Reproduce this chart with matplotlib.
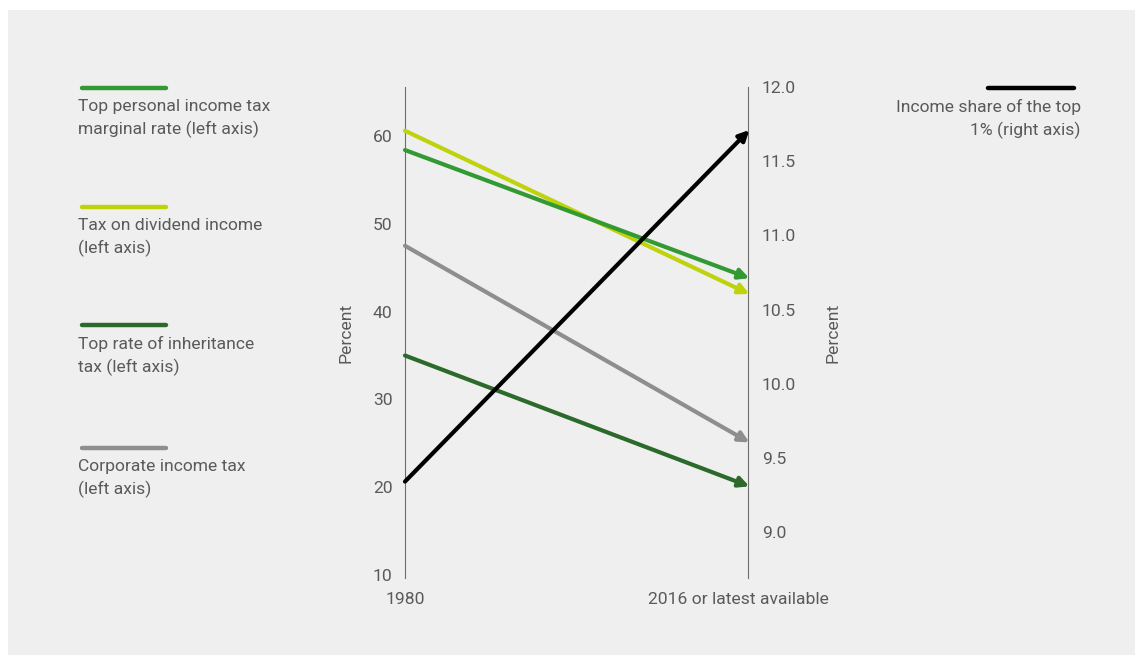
import matplotlib.pyplot as plt
from matplotlib.lines import Line2D
from matplotlib.patches import Rectangle
from matplotlib.transforms import offset_copy

# Values
x_labels = ['1980', '2016 or latest available']
left_names = ['Tax on dividend income\n(left axis)',
              'Top personal income tax\nmarginal rate (left axis)',
              'Corporate income tax\n(left axis)',
              'Top rate of inheritance\ntax (left axis)']
left_start = [60.6, 58.4, 47.5, 35.0]
left_end = [42.0, 43.8, 25.1, 20.1]
left_colors = ['#bfd30c', '#339933', '#8e8e8e', '#2b6a2b']

right_name = 'Income share of the top\n1% (right axis)'
right_start = 9.34
right_end = 11.71
right_color = '#000000'

left_ticks = [10, 20, 30, 40, 50, 60]
right_ticks = [9.0, 9.5, 10.0, 10.5, 11.0, 11.5, 12.0]

W, H = 1135, 655
TEXT = '#5a5a5a'
FS = 12.6
plt.rcParams['font.family'] = ['Roboto', 'DejaVu Sans']


def fx(px):
    return px / W


def fy(py):
    return 1 - py / H


fig = plt.figure(figsize=(W / 100, H / 100), dpi=100, facecolor='white')
fig.add_artist(Rectangle((fx(8), 0), 1 - fx(8), fy(10), transform=fig.transFigure,
                         facecolor='#efefef', edgecolor='none', zorder=-10))

ax = fig.add_axes([fx(405), fy(578), fx(748 - 405), (578 - 87) / H])
ax.set_facecolor('none')
ax2 = ax.twinx()
ax2.set_facecolor('none')

ax.set_xlim(0, 1)
ax.set_ylim(9.66, 65.58)
ax2.set_ylim(8.69, 11.987)

for a in (ax, ax2):
    for s in ('top', 'bottom'):
        a.spines[s].set_visible(False)
    a.spines['left'].set_color('#6e6e6e')
    a.spines['right'].set_color('#6e6e6e')
    a.tick_params(length=0, labelsize=FS, labelcolor=TEXT)
ax.spines['right'].set_visible(False)
ax2.spines['left'].set_visible(False)

ax.set_yticks(left_ticks)
ax.tick_params(axis='y', pad=9)
ax2.set_yticks(right_ticks)
ax2.set_yticklabels([f'{t:.1f}' for t in right_ticks])
ax2.tick_params(axis='y', pad=10)
ax.set_xticks([])

ax.set_ylabel('Percent', fontsize=FS, color=TEXT, labelpad=14)
ax2.set_ylabel('Percent', fontsize=FS, color=TEXT, labelpad=21)

# x category labels under the two axis lines
ax.text(0, -0.043, x_labels[0], transform=ax.get_xaxis_transform(),
        ha='center', va='center', fontsize=FS, color=TEXT)
ax.text(1, -0.043, x_labels[1],
        transform=offset_copy(ax.get_xaxis_transform(), fig=fig, x=-10, units='dots'),
        ha='center', va='center', fontsize=FS, color=TEXT)

for s, e, c in zip(left_start, left_end, left_colors):
    ax.annotate('', xy=(1.004, e), xytext=(0, s),
                arrowprops=dict(arrowstyle='-|>', lw=3.0, color=c, mutation_scale=15,
                                shrinkA=0, shrinkB=0), annotation_clip=False)
ax2.annotate('', xy=(1.004, right_end), xytext=(0, right_start),
             arrowprops=dict(arrowstyle='-|>', lw=3.0, color=right_color, mutation_scale=15,
                             shrinkA=0, shrinkB=0), annotation_clip=False)

# legend block on the left
legend_order = [1, 0, 3, 2]
legend_y = [88, 207, 325, 448]
for i, ly in zip(legend_order, legend_y):
    fig.add_artist(Line2D([fx(82), fx(166)], [fy(ly), fy(ly)], transform=fig.transFigure,
                          color=left_colors[i], lw=3.2, solid_capstyle='round'))
    fig.text(fx(78), fy(ly + 11), left_names[i], ha='left', va='top', fontsize=FS,
             color=TEXT, linespacing=1.5)

# legend for the right axis
fig.add_artist(Line2D([fx(988), fx(1074)], [fy(88), fy(88)], transform=fig.transFigure,
                      color=right_color, lw=3.2, solid_capstyle='round'))
fig.text(fx(1081), fy(99), right_name, ha='right', va='top', fontsize=FS,
         color=TEXT, linespacing=1.5, multialignment='right')

fig.savefig('out.png', dpi=100, facecolor=fig.get_facecolor())
